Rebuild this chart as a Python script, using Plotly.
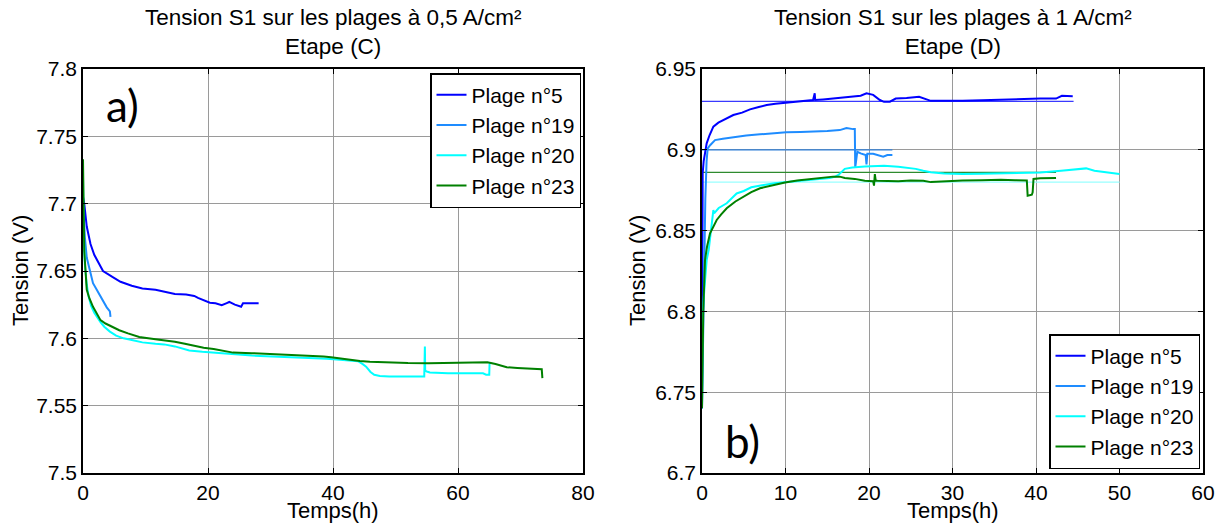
import plotly.graph_objects as go

# ---------------- data: panel a (0,5 A/cm², étape C) ----------------
a_p5_t = [0, 0.2, 0.6, 1.2, 1.8, 2.5, 3.2, 4.7, 6.0, 7.8, 9.5, 11.6, 13.5, 14.7, 16.5, 17.8, 18.4, 19.5,
          20.3, 21.2, 22.2, 23.0, 23.4, 24.3, 25.3, 25.6, 26.5, 28.1]
a_p5_v = [7.705, 7.700, 7.683, 7.670, 7.662, 7.656, 7.650, 7.6456, 7.642, 7.639, 7.637, 7.636, 7.634, 7.633,
          7.6325, 7.6315, 7.630, 7.628, 7.6264, 7.626, 7.6246, 7.6262, 7.627, 7.625, 7.6234, 7.626, 7.6262, 7.626]

a_p19_t = [0, 0.1, 0.3, 0.6, 1.1, 1.6, 2.2, 2.8, 3.3, 3.8, 4.3, 4.4]
a_p19_v = [7.702, 7.69, 7.675, 7.66, 7.650, 7.641, 7.636, 7.631, 7.627, 7.623, 7.620, 7.616]

a_p20_t = [0, 0.1, 0.3, 0.6, 0.9, 1.3, 1.8, 2.2, 2.8, 3.4, 4.3, 5.3, 6.5, 7.8, 9.5, 11.6, 13.0, 14.7, 17.0,
           19.1, 21.5, 24.0, 27.0, 30.3, 33.5, 36.6, 39.0, 41.6, 43.0, 44.0, 44.7, 45.3, 46.0, 46.6, 47.5,
           49.0, 52.2, 54.6, 54.7, 54.75, 55.0, 55.5, 58.4, 61.6, 63.0, 64.0, 64.5, 65.0, 65.05]
a_p20_v = [7.72, 7.68, 7.655, 7.640, 7.631, 7.624, 7.619, 7.616, 7.612, 7.6086, 7.605, 7.602, 7.600, 7.5988,
           7.597, 7.596, 7.5955, 7.594, 7.591, 7.590, 7.589, 7.588, 7.5872, 7.5865, 7.586, 7.5852, 7.5848,
           7.584, 7.5835, 7.583, 7.581, 7.579, 7.575, 7.5729, 7.572, 7.5717, 7.5717, 7.5717, 7.594, 7.576,
           7.5754, 7.5746, 7.574, 7.574, 7.5745, 7.574, 7.573, 7.573, 7.5815]

a_p23_t = [0, 0.05, 0.2, 0.6, 1.0, 1.6, 2.2, 2.8, 3.6, 4.7, 5.8, 7.2, 9.0, 11.6, 13.0, 14.7, 16.3, 17.8, 19.3,
           20.9, 22.5, 24.0, 27.0, 30.3, 33.5, 36.6, 38.5, 39.7, 41.2, 42.8, 44.3, 45.9, 49.0, 52.0, 55.3,
           58.5, 61.6, 63.5, 64.7, 66.0, 67.8, 69.5, 70.9, 72.5, 73.4, 73.5]
a_p23_v = [7.733, 7.70, 7.665, 7.636, 7.630, 7.6234, 7.618, 7.6135, 7.611, 7.6086, 7.606, 7.6037, 7.601,
           7.5993, 7.5985, 7.5975, 7.596, 7.5943, 7.593, 7.592, 7.5905, 7.5894, 7.589, 7.5884, 7.5878, 7.587,
           7.5865, 7.586, 7.585, 7.584, 7.5832, 7.5827, 7.582, 7.5817, 7.5815, 7.5818, 7.582, 7.5822, 7.5822,
           7.581, 7.5786, 7.578, 7.5776, 7.5774, 7.577, 7.5704]

# ---------------- data: panel b (1 A/cm², étape D) ----------------
b_p5_t = [0, 0.02, 0.05, 0.08, 0.2, 0.4, 0.56, 0.9, 1.36, 1.96, 2.8, 3.75, 4.8, 5.75, 6.8, 7.75, 8.8, 9.94,
          11.5, 13.3, 13.5, 13.55, 14.5, 15.7, 17.0, 18.1, 19.0, 19.7, 20.5, 21.3, 21.8, 22.5, 23.2, 24.5,
          26.0, 27.4, 29.0, 31.2, 33.5, 35.8, 38.0, 40.5, 42.4, 43.1, 44.4]
b_p5_v = [6.74, 6.80, 6.86, 6.8855, 6.893, 6.900, 6.904, 6.909, 6.9143, 6.9168, 6.919, 6.9215, 6.923, 6.925,
          6.9265, 6.9277, 6.9285, 6.9291, 6.930, 6.9308, 6.935, 6.9308, 6.9312, 6.9319, 6.9322, 6.9329, 6.9335,
          6.935, 6.934, 6.9308, 6.9297, 6.9298, 6.9317, 6.932, 6.9328, 6.9303, 6.9302, 6.9303, 6.9307, 6.9311,
          6.9314, 6.9317, 6.9317, 6.9334, 6.9332]
b_p5_ref_t = [0, 44.5]
b_p5_ref_v = [6.93, 6.93]

b_p19_t = [0, 0.1, 0.25, 0.4, 0.55, 0.68, 1.0, 1.56, 2.5, 3.75, 5.3, 6.95, 8.5, 10.1, 11.8, 13.3, 15.0, 16.5,
           17.3, 18.1, 18.3, 18.35, 18.5, 18.6, 19.0, 19.6, 19.7, 19.8, 20.5, 21.1, 21.7, 22.2, 22.8]
b_p19_v = [6.74, 6.78, 6.83, 6.87, 6.893, 6.9009, 6.903, 6.906, 6.9068, 6.9078, 6.9088, 6.9096, 6.9102,
           6.9108, 6.911, 6.9112, 6.9116, 6.9122, 6.9135, 6.9128, 6.9128, 6.889, 6.898, 6.8988, 6.8978, 6.8968,
           6.891, 6.8975, 6.8975, 6.8965, 6.8958, 6.8968, 6.8968]
b_p19_ref_t = [0, 22.8]
b_p19_ref_v = [6.90, 6.90]

b_p20_t = [0, 0.1, 0.3, 0.56, 0.8, 1.0, 1.3, 1.36, 1.45, 2.0, 2.96, 4.15, 5.0, 5.9, 7.2, 8.7, 10.5, 12.5,
           14.0, 15.3, 16.0, 16.4, 17.1, 18.0, 19.5, 20.5, 21.8, 23.5, 25.6, 26.5, 27.4, 29.0, 31.2, 33.5,
           35.8, 38.0, 40.5, 43.0, 45.2, 46.0, 47.0, 48.5, 50.0]
b_p20_v = [6.74, 6.80, 6.815, 6.8318, 6.838, 6.848, 6.86, 6.8627, 6.8607, 6.864, 6.8669, 6.873, 6.8745,
           6.8768, 6.878, 6.8793, 6.8803, 6.8813, 6.882, 6.8826, 6.8835, 6.8847, 6.8882, 6.889, 6.8896, 6.8898,
           6.8902, 6.8895, 6.8882, 6.887, 6.8861, 6.8853, 6.885, 6.8852, 6.8855, 6.8858, 6.886, 6.887, 6.8882,
           6.8885, 6.8871, 6.886, 6.885]
b_p20_ref_t = [0, 50]
b_p20_ref_v = [6.88, 6.88]

b_p23_t = [0, 0.05, 0.15, 0.36, 0.6, 0.96, 1.3, 1.76, 2.3, 2.96, 4.0, 4.95, 5.9, 6.95, 8.4, 9.94, 11.4, 12.9,
           14.3, 15.7, 16.5, 17.1, 18.3, 19.5, 20.5, 20.6, 20.7, 20.8, 21.0, 21.8, 23.5, 25.0, 26.5, 27.4,
           29.0, 31.2, 33.5, 35.8, 37.5, 38.6, 38.9, 39.0, 39.5, 39.6, 39.7, 40.5, 41.5, 42.4]
b_p23_v = [6.74, 6.77, 6.80, 6.8318, 6.840, 6.8483, 6.852, 6.8566, 6.860, 6.8638, 6.868, 6.871, 6.8738,
           6.8762, 6.878, 6.8797, 6.881, 6.882, 6.8828, 6.8834, 6.8834, 6.8826, 6.882, 6.8809, 6.8805, 6.8778,
           6.885, 6.881, 6.8809, 6.8809, 6.8805, 6.881, 6.8809, 6.880, 6.8805, 6.881, 6.8812, 6.8815, 6.8812,
           6.881, 6.881, 6.8716, 6.8722, 6.8737, 6.882, 6.8824, 6.8825, 6.8826]
b_p23_ref_t = [0, 42.4]
b_p23_ref_v = [6.886, 6.886]

names = ["Plage n°5", "Plage n°19", "Plage n°20", "Plage n°23"]
colors = ["#0000ff", "#1e8cff", "#00ffff", "#008000"]
ref_colors = ["#3a3aff", "#2f7fd8", "#99ffff", "#2e8b2e"]

a_titles = "Tension S1 sur les plages à 0,5 A/cm²<br>Etape (C)"
b_titles = "Tension S1 sur les plages à 1 A/cm²<br>Etape (D)"
x_title = "Temps(h)"
y_title = "Tension (V)"

a_x_ticks = [0, 20, 40, 60, 80]
a_y_ticks = [7.5, 7.55, 7.6, 7.65, 7.7, 7.75, 7.8]
b_x_ticks = [0, 10, 20, 30, 40, 50, 60]
b_y_ticks = [6.7, 6.75, 6.8, 6.85, 6.9, 6.95]

FONT = "Liberation Sans, Arial, sans-serif"
W, H = 1222, 524

fig = go.Figure()

a_series = [(a_p5_t, a_p5_v), (a_p19_t, a_p19_v), (a_p20_t, a_p20_v), (a_p23_t, a_p23_v)]
for (t, v), n, c in zip(a_series, names, colors):
    fig.add_trace(go.Scatter(x=t, y=v, mode="lines", name=n, line=dict(color=c, width=2),
                             xaxis="x", yaxis="y", legend="legend"))

b_refs = [(b_p5_ref_t, b_p5_ref_v), (b_p19_ref_t, b_p19_ref_v), (b_p20_ref_t, b_p20_ref_v),
          (b_p23_ref_t, b_p23_ref_v)]
for (t, v), n, c in zip(b_refs, names, ref_colors):
    fig.add_trace(go.Scatter(x=t, y=v, mode="lines", name=n, line=dict(color=c, width=1.2),
                             xaxis="x2", yaxis="y2", showlegend=False))

b_series = [(b_p5_t, b_p5_v), (b_p19_t, b_p19_v), (b_p20_t, b_p20_v), (b_p23_t, b_p23_v)]
for (t, v), n, c in zip(b_series, names, colors):
    fig.add_trace(go.Scatter(x=t, y=v, mode="lines", name=n, line=dict(color=c, width=2),
                             xaxis="x2", yaxis="y2", legend="legend2"))

# plot area in pixels
ax_l, ax_r = 83, 583
bx_l, bx_r = 702, 1203
top, bot = 69, 473
ydom = [1 - bot / H, 1 - top / H]

common = dict(showline=True, linecolor="black", linewidth=1.5, mirror="ticks", ticks="inside",
              ticklen=5, tickcolor="black", showgrid=True, gridcolor="#9a9a9a", gridwidth=1,
              zeroline=False, automargin=False, tickfont=dict(family=FONT, size=21, color="black"))
tfont = dict(family=FONT, size=22, color="black")
lfont = dict(family=FONT, size=21, color="black")

fig.update_layout(
    width=W, height=H, paper_bgcolor="white", plot_bgcolor="white",
    margin=dict(l=0, r=0, t=0, b=0),
    xaxis=dict(domain=[ax_l / W, ax_r / W], range=[0, 80], tickvals=a_x_ticks, anchor="y", **common),
    yaxis=dict(domain=ydom, range=[7.5, 7.8], tickvals=a_y_ticks, anchor="x", **common),
    xaxis2=dict(domain=[bx_l / W, bx_r / W], range=[0, 60], tickvals=b_x_ticks, anchor="y2", **common),
    yaxis2=dict(domain=ydom, range=[6.7, 6.95], tickvals=b_y_ticks, anchor="x2", **common),
    legend=dict(x=581 / W, y=1 - 73 / H, xanchor="right", yanchor="top", bgcolor="white",
                bordercolor="black", borderwidth=1.5, font=lfont, tracegroupgap=0, itemwidth=30),
    legend2=dict(x=1200 / W, y=1 - 469 / H, xanchor="right", yanchor="bottom", bgcolor="white",
                 bordercolor="black", borderwidth=1.5, font=lfont, tracegroupgap=0, itemwidth=30),
    showlegend=True,
)

# panel titles
for txt, cx in [(a_titles, (ax_l + ax_r) / 2), (b_titles, (bx_l + bx_r) / 2)]:
    fig.add_annotation(text=txt, x=cx / W, y=1 - 32 / H, xref="paper", yref="paper",
                       showarrow=False, font=dict(family=FONT, size=22.5, color="black"),
                       xanchor="center", yanchor="middle")
# axis titles
for cx in [(ax_l + ax_r) / 2, (bx_l + bx_r) / 2]:
    fig.add_annotation(text=x_title, x=cx / W, y=0, xref="paper", yref="paper", borderpad=0,
                       showarrow=False, font=tfont, xanchor="center", yanchor="bottom")
for cx in [20, 637]:
    fig.add_annotation(text=y_title, x=cx / W, y=1 - (top + bot) / 2 / H, xref="paper", yref="paper",
                       showarrow=False, font=tfont, textangle=-90, xanchor="center", yanchor="middle")
# panel labels
fig.add_annotation(text="a)", x=122 / W, y=1 - 105 / H, xref="paper", yref="paper", showarrow=False,
                   font=dict(family="Lato, Open Sans, sans-serif", size=44, color="black"),
                   xanchor="center", yanchor="middle")
fig.add_annotation(text="b)", x=742 / W, y=1 - 441 / H, xref="paper", yref="paper", showarrow=False,
                   font=dict(family="Lato, Open Sans, sans-serif", size=44, color="black"),
                   xanchor="center", yanchor="middle")

fig.write_html("out.html", post_script="document.body.style.margin='0';",
               config={"displayModeBar": False})
